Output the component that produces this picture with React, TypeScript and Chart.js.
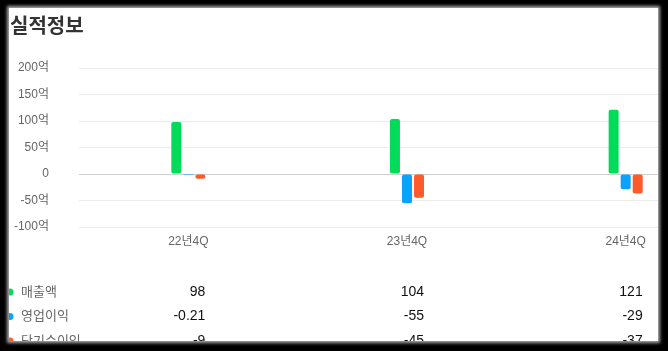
import React, { useEffect, useRef } from 'react';
import { Chart, registerables } from 'chart.js';

Chart.register(...registerables);

const categories = ['22년4Q', '23년4Q', '24년4Q'];
const seriesNames = ['매출액', '영업이익', '당기순이익'];
const revenue = [98, 104, 121];
const operatingProfit = [-0.21, -55, -29];
const netProfit = [-9, -45, -37];
const seriesColors = ['#00dc5a', '#0aa2ff', '#ff5a2a'];
const yMin = -100;
const yMax = 200;
const yStep = 50;

const FONT = "'Liberation Sans', Arial, 'Noto Sans CJK KR', sans-serif";

const tablePlugin = {
  id: 'tablePlugin',
  afterDraw(chart: any) {
    const { ctx, chartArea } = chart;
    const xScale = chart.scales.x;
    const meta0 = chart.getDatasetMeta(chart.data.datasets.length - 1);
    chart.data.datasets.forEach((ds: any, r: number) => {
      const y = chartArea.bottom + 65 + r * 24.5;
      ctx.save();
      ctx.fillStyle = ds.backgroundColor;
      ctx.beginPath();
      ctx.arc(10, y, 3.5, 0, Math.PI * 2);
      ctx.fill();
      ctx.font = `13px ${FONT}`;
      ctx.fillStyle = '#666';
      ctx.textAlign = 'left';
      ctx.textBaseline = 'middle';
      ctx.fillText(ds.label, 21, y);
      ctx.font = `14px ${FONT}`;
      ctx.fillStyle = '#111';
      ctx.textAlign = 'right';
      ds.data.forEach((v: number, i: number) => {
        const bar = meta0.data[i];
        const xr = bar ? bar.x + bar.width / 2 : xScale.getPixelForValue(i);
        ctx.fillText(String(v), xr, y);
      });
      ctx.restore();
    });
  },
};

function ChartView() {
  const ref = useRef<HTMLCanvasElement | null>(null);
  useEffect(() => {
    if (!ref.current) return;
    const data = [revenue, operatingProfit, netProfit];
    const chart = new Chart(ref.current, {
      type: 'bar',
      data: {
        labels: categories,
        datasets: seriesNames.map((name, i) => ({
          label: name,
          data: data[i],
          backgroundColor: seriesColors[i],
          borderRadius: 2,
          borderSkipped: false,
          categoryPercentage: 0.165,
          barPercentage: 0.83,
        })),
      },
      options: {
        animation: false,
        responsive: false,
        devicePixelRatio: 1,
        layout: { padding: { top: 68, right: 5, left: 0, bottom: 0 } },
        plugins: {
          legend: { display: false },
          tooltip: { enabled: false },
          title: { display: false },
        },
        scales: {
          x: {
            grid: { display: false, drawTicks: false },
            border: { display: false },
            ticks: {
              color: '#666',
              font: { size: 12, family: FONT },
              padding: 7,
              maxRotation: 0,
            },
            afterFit(scale: any) {
              scale.height = 124;
            },
          },
          y: {
            min: yMin,
            max: yMax,
            grid: {
              drawTicks: false,
              color: (c: any) => (c.tick && c.tick.value === 0 ? '#cfcfcf' : '#ececec'),
            },
            border: { display: false },
            ticks: {
              stepSize: yStep,
              color: '#666',
              font: { size: 12, family: FONT },
              padding: 30,
              callback: (v: any) => (Number(v) === 0 ? '0' : `${v}억`),
            },
            afterFit(scale: any) {
              scale.width = 79;
            },
          },
        },
      },
      plugins: [tablePlugin],
    });
    return () => chart.destroy();
  }, []);
  return (
    <canvas
      ref={ref}
      width={740}
      height={351}
      style={{ position: 'absolute', left: -9, top: -8, width: 740, height: 351 }}
    />
  );
}

export default function App() {
  return (
    <div style={{ position: 'fixed', left: 0, top: 0, width: 668, height: 351, background: '#000', overflow: 'hidden' }}>
      <div
        style={{
          position: 'absolute',
          left: 9,
          top: 8,
          width: 649,
          height: 333,
          background: '#fff',
          overflow: 'hidden',
          boxShadow: '0 0 3px 2px #aaa',
        }}
      >
        <ChartView />
        <div
          style={{
            position: 'absolute',
            left: 1,
            top: 4,
            fontFamily: "'Noto Sans CJK KR', sans-serif",
            fontWeight: 700,
            fontSize: 20,
            lineHeight: '25px',
            color: '#333',
          }}
        >
          실적정보
        </div>
      </div>
    </div>
  );
}
